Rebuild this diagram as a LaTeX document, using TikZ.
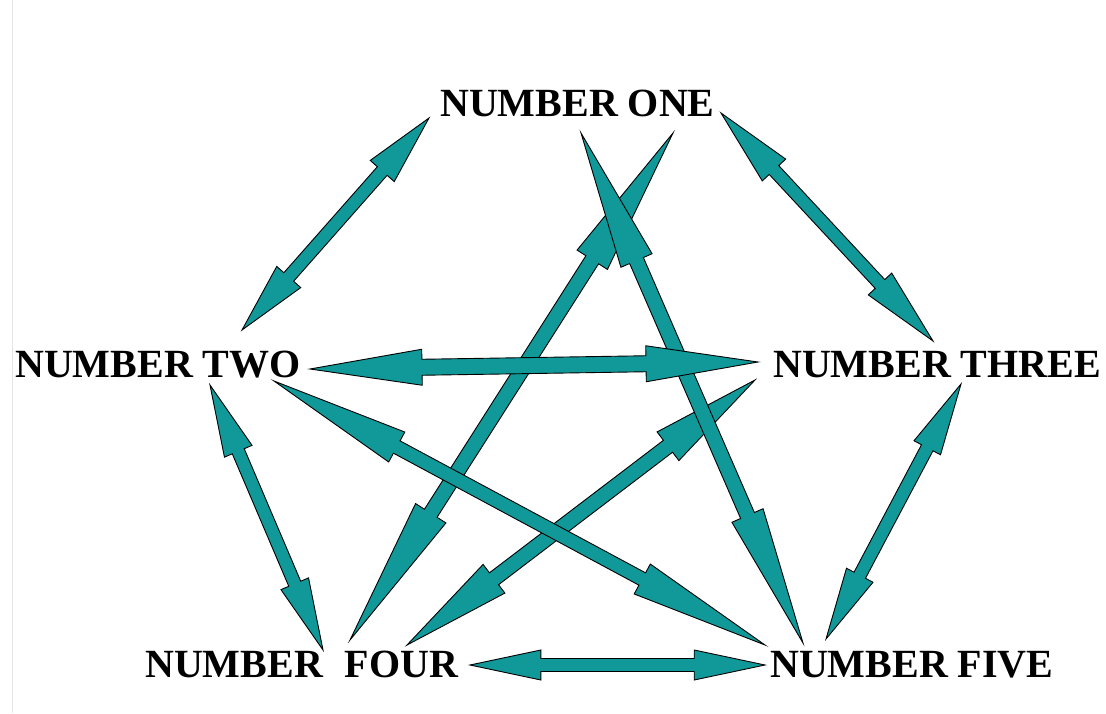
\documentclass[tikz,border=0pt]{standalone}
\usepackage{fontspec}
\setmainfont{Liberation Serif}
\usetikzlibrary{calc}
\definecolor{arrowteal}{RGB}{17,153,153}
\tikzset{
  lbl/.style={anchor=base west, inner sep=0pt, font=\fontsize{40}{40}\selectfont\bfseries},
  barrow/.style={fill=arrowteal, draw=black, line width=0.9pt, line join=miter},
}
% #1,#2: end coordinates; #3: half shaft width; #4: half head width; #5: head fraction
\newcommand\dblarrow[5]{%
  \draw[barrow] (#1)
   -- ($(#1)!#5!(#2)!#4pt!90:(#2)$)
   -- ($(#1)!#5!(#2)!#3pt!90:(#2)$)
   -- ($(#1)!{1-#5}!(#2)!#3pt!90:(#2)$)
   -- ($(#1)!{1-#5}!(#2)!#4pt!90:(#2)$)
   -- (#2)
   -- ($(#1)!{1-#5}!(#2)!#4pt!-90:(#2)$)
   -- ($(#1)!{1-#5}!(#2)!#3pt!-90:(#2)$)
   -- ($(#1)!#5!(#2)!#3pt!-90:(#2)$)
   -- ($(#1)!#5!(#2)!#4pt!-90:(#2)$)
   -- cycle;}
\begin{document}
\begin{tikzpicture}[x=1pt,y=-1pt]
\useasboundingbox (0,0) rectangle (1106,713);
\fill[white] (0,0) rectangle (1106,713);
\draw[black!10, line width=0.8pt] (12,0) -- (12,713);
% labels
\node[lbl] (one)   at (440,116) {NUMBER ONE};
\node[lbl] (two)   at (15,377)  {NUMBER TWO};
\node[lbl] (three) at (773,377) {NUMBER THREE};
\node[lbl] (four)  at (145,677) {NUMBER\hspace{22pt}FOUR};
\node[lbl] (five)  at (770,677) {NUMBER FIVE};
% arrow end points
\coordinate (o2) at (429,118); \coordinate (t1) at (242,330);
\coordinate (o3) at (721,113); \coordinate (h1) at (933,341);
\coordinate (t3) at (310,369); \coordinate (h2) at (758,362);
\coordinate (t4) at (210,385); \coordinate (f2) at (323,650);
\coordinate (t5) at (274,381); \coordinate (v2) at (765,645);
\coordinate (o4) at (673,133); \coordinate (f1) at (350,640);
\coordinate (o5) at (581,133); \coordinate (v1) at (803,643);
\coordinate (h4) at (755,380); \coordinate (f3) at (407,645);
\coordinate (h5) at (961,384); \coordinate (v3) at (826,639);
\coordinate (f5) at (470,665); \coordinate (v4) at (765,665);
% arrows
\dblarrow{o4}{f1}{7.5}{18}{0.25}
\dblarrow{h4}{f3}{7.5}{18}{0.25}
\dblarrow{t5}{v2}{7}{17}{0.25}
\dblarrow{o5}{v1}{7.5}{17}{0.25}
\dblarrow{t3}{h2}{8}{18}{0.25}
\dblarrow{o2}{t1}{6.5}{16}{0.25}
\dblarrow{o3}{h1}{6.5}{16}{0.25}
\dblarrow{t4}{f2}{6.5}{15}{0.25}
\dblarrow{h5}{v3}{6.5}{15}{0.25}
\dblarrow{f5}{v4}{6.5}{15}{0.24}
\end{tikzpicture}
\end{document}
